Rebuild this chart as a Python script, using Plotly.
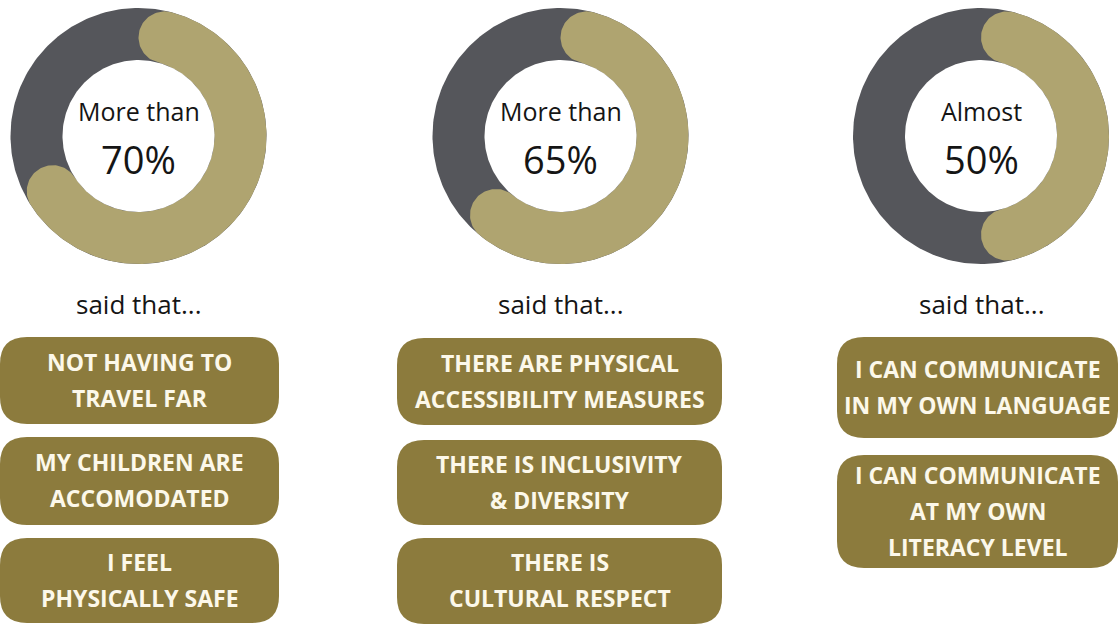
import math
import plotly.graph_objects as go

# Survey results: share of respondents per theme
shares = [70, 65, 50]
leads = ["More than", "More than", "Almost"]
statements = [
    [["NOT HAVING TO", "TRAVEL FAR"], ["MY CHILDREN ARE", "ACCOMODATED"], ["I FEEL", "PHYSICALLY SAFE"]],
    [["THERE ARE PHYSICAL", "ACCESSIBILITY MEASURES"], ["THERE IS INCLUSIVITY", "& DIVERSITY"], ["THERE IS", "CULTURAL RESPECT"]],
    [["I CAN COMMUNICATE", "IN MY OWN LANGUAGE"], ["I CAN COMMUNICATE", "AT MY OWN", "LITERACY LEVEL"]],
]
caption = "said that..."

# Layout (pixel units)
W, H = 1118, 626
centers_x = [138.5, 560.5, 981.0]
center_y = 136.0
R_OUT, R_IN = 128.0, 76.0
pill_x = [(0, 279), (397, 722), (837, 1118)]
pill_y = [
    [(337, 424), (437, 525), (538, 623)],
    [(338, 425), (440, 525), (538, 624)],
    [(337, 438), (455, 568)],
]
PILL_R = 27
LINE_GAP = 36

GREY = "#55565b"
GOLD_RING = "#afa470"
GOLD_PILL = "#8c7b3d"
CREAM = "#fcf8ea"
INK = "#151515"
FONT = "Open Sans"


def pt(cx, cy, rho, phi):
    """Point at clockwise angle phi (radians from 12 o'clock) on screen coords."""
    return cx + rho * math.sin(phi), cy - rho * math.cos(phi)


def circle(cx, cy, r, n=240):
    xs, ys = [], []
    for i in range(n + 1):
        x, y = pt(cx, cy, r, 2 * math.pi * i / n)
        xs.append(x)
        ys.append(y)
    return xs, ys


def rounded_arc(cx, cy, share):
    """Ring segment with round caps spanning 0..share of the full turn."""
    rc = (R_OUT + R_IN) / 2
    h = (R_OUT - R_IN) / 2
    cap = math.asin(h / rc)
    a0 = cap
    a1 = 2 * math.pi * share / 100 - cap
    xs, ys = [], []
    n = 200
    for i in range(n + 1):
        x, y = pt(cx, cy, R_OUT, a0 + (a1 - a0) * i / n)
        xs.append(x); ys.append(y)
    # end cap
    ex, ey = pt(cx, cy, rc, a1)
    u = (math.sin(a1), -math.cos(a1))
    t = (math.cos(a1), math.sin(a1))
    for i in range(1, 60):
        a = math.pi * i / 60
        xs.append(ex + h * (math.cos(a) * u[0] + math.sin(a) * t[0]))
        ys.append(ey + h * (math.cos(a) * u[1] + math.sin(a) * t[1]))
    for i in range(n + 1):
        x, y = pt(cx, cy, R_IN, a1 - (a1 - a0) * i / n)
        xs.append(x); ys.append(y)
    # start cap
    sx, sy = pt(cx, cy, rc, a0)
    u = (math.sin(a0), -math.cos(a0))
    t = (math.cos(a0), math.sin(a0))
    for i in range(1, 60):
        a = math.pi - math.pi * i / 60
        xs.append(sx + h * (math.cos(a) * u[0] - math.sin(a) * t[0]))
        ys.append(sy + h * (math.cos(a) * u[1] - math.sin(a) * t[1]))
    xs.append(xs[0]); ys.append(ys[0])
    return xs, ys


def pill_path(x0, x1, y0, y1, r):
    return (f"M {x0 + r} {y0} L {x1 - r} {y0} Q {x1} {y0} {x1} {y0 + r} "
            f"L {x1} {y1 - r} Q {x1} {y1} {x1 - r} {y1} L {x0 + r} {y1} "
            f"Q {x0} {y1} {x0} {y1 - r} L {x0} {y0 + r} Q {x0} {y0} {x0 + r} {y0} Z")


fig = go.Figure()
annotations = []
shapes = []

for k, share in enumerate(shares):
    cx = centers_x[k]
    xs, ys = circle(cx, center_y, R_OUT)
    fig.add_trace(go.Scatter(x=xs, y=ys, mode="lines", fill="toself", fillcolor=GREY,
                             line=dict(width=0, color=GREY), hoverinfo="skip"))
    xs, ys = rounded_arc(cx, center_y, share)
    fig.add_trace(go.Scatter(x=xs, y=ys, mode="lines", fill="toself", fillcolor=GOLD_RING,
                             line=dict(width=0, color=GOLD_RING), hoverinfo="skip"))
    xs, ys = circle(cx, center_y, R_IN)
    fig.add_trace(go.Scatter(x=xs, y=ys, mode="lines", fill="toself", fillcolor="white",
                             line=dict(width=0, color="white"), hoverinfo="skip"))

    annotations.append(dict(x=cx, y=center_y - 25, text=leads[k], showarrow=False,
                            font=dict(family=FONT, size=25, color=INK), xanchor="center", yanchor="middle"))
    annotations.append(dict(x=cx, y=center_y + 23, text=f"{share}%", showarrow=False,
                            font=dict(family=FONT, size=38, color=INK), xanchor="center", yanchor="middle"))
    annotations.append(dict(x=cx, y=304, text=caption, showarrow=False,
                            font=dict(family=FONT, size=26, color=INK), xanchor="center", yanchor="middle"))

    x0, x1 = pill_x[k]
    for j, lines in enumerate(statements[k]):
        y0, y1 = pill_y[k][j]
        shapes.append(dict(type="path", path=pill_path(x0, x1, y0, y1, PILL_R), xref="x", yref="y",
                           fillcolor=GOLD_PILL, line=dict(width=0), layer="below"))
        mid = (y0 + y1) / 2 - 1
        first = mid - LINE_GAP * (len(lines) - 1) / 2
        for i, line in enumerate(lines):
            annotations.append(dict(x=(x0 + x1) / 2, y=first + i * LINE_GAP, text=f"<b>{line}</b>",
                                    showarrow=False, xanchor="center", yanchor="middle",
                                    font=dict(family=FONT, size=23, color=CREAM)))

fig.update_layout(
    width=W, height=H, margin=dict(l=0, r=0, t=0, b=0),
    paper_bgcolor="white", plot_bgcolor="white", showlegend=False,
    xaxis=dict(range=[0, W], visible=False, fixedrange=True),
    yaxis=dict(range=[H, 0], visible=False, fixedrange=True),
    shapes=shapes, annotations=annotations,
)

fig.write_html("out.html", config={"displayModeBar": False})
